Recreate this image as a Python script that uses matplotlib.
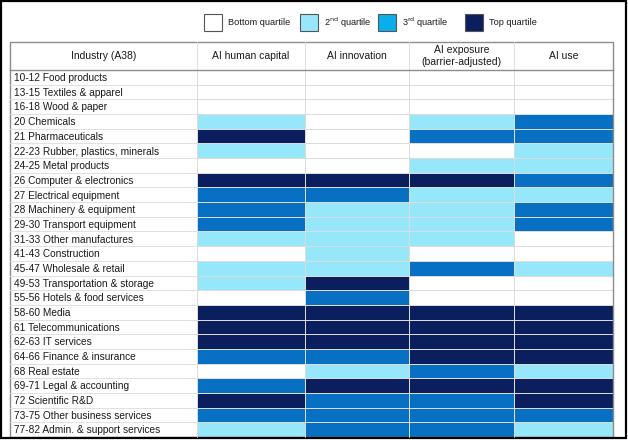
import numpy as np
import matplotlib.pyplot as plt
from matplotlib.colors import ListedColormap
from matplotlib.patches import Rectangle

# Industries (rows) and indicators (columns)
industries = [
    '10-12 Food products', '13-15 Textiles & apparel', '16-18 Wood & paper',
    '20 Chemicals', '21 Pharmaceuticals', '22-23 Rubber, plastics, minerals',
    '24-25 Metal products', '26 Computer & electronics', '27 Electrical equipment',
    '28 Machinery & equipment', '29-30 Transport equipment', '31-33 Other manufactures',
    '41-43 Construction', '45-47 Wholesale & retail', '49-53 Transportation & storage',
    '55-56 Hotels & food services', '58-60 Media', '61 Telecommunications',
    '62-63 IT services', '64-66 Finance & insurance', '68 Real estate',
    '69-71 Legal & accounting', '72 Scientific R&D', '73-75 Other business services',
    '77-82 Admin. & support services',
]
indicators = ['AI human capital', 'AI innovation', 'AI exposure\n(barrier-adjusted)', 'AI use']

# quartile per cell: 0 = bottom, 1 = 2nd, 2 = 3rd, 3 = top
human_capital = [0, 0, 0, 1, 3, 1, 0, 3, 2, 2, 2, 1, 0, 1, 1, 0, 3, 3, 3, 2, 0, 2, 3, 2, 1]
innovation    = [0, 0, 0, 0, 0, 0, 0, 3, 2, 1, 1, 1, 1, 1, 3, 2, 3, 3, 3, 2, 1, 3, 2, 2, 2]
exposure      = [0, 0, 0, 1, 2, 0, 1, 3, 1, 1, 1, 1, 0, 2, 0, 0, 3, 3, 3, 3, 2, 3, 2, 2, 2]
ai_use        = [0, 0, 0, 2, 2, 1, 1, 2, 1, 2, 2, 0, 0, 1, 0, 0, 3, 3, 3, 3, 1, 3, 3, 2, 1]

legend_labels = ['Bottom quartile', '2$^{\\rm nd}$ quartile', '3$^{\\rm rd}$ quartile', 'Top quartile']
cell_colors = ['#ffffff', '#97e7fb', '#0870c2', '#0b1f5e']
legend_colors = ['#ffffff', '#97e7fb', '#0aaeea', '#0b1f5e']

plt.rcParams['font.family'] = ['Liberation Sans', 'DejaVu Sans']

W, H = 628, 440
fig = plt.figure(figsize=(W / 100, H / 100), dpi=100)

# table geometry in pixels
left, right, top, head_bot, bottom = 10, 613, 42, 70, 437
col_x = [197, 305, 409, 514, 613]
n = len(industries)
row_h = (bottom - head_bot) / n

# cells
ax = fig.add_axes([col_x[0] / W, 1 - bottom / H, (right - col_x[0]) / W, (bottom - head_bot) / H])
grid = np.array([human_capital, innovation, exposure, ai_use]).T
ax.pcolormesh(np.array(col_x) - col_x[0], np.arange(n + 1), grid,
              cmap=ListedColormap(cell_colors), vmin=-0.5, vmax=3.5,
              edgecolor='#dcdcdc', linewidth=0.6)
ax.set_xlim(0, right - col_x[0])
ax.set_ylim(n, 0)
ax.axis('off')

# overlay in pixel coordinates for frame, labels, legend
ov = fig.add_axes([0, 0, 1, 1], facecolor='none')
ov.set_xlim(0, W)
ov.set_ylim(H, 0)
ov.axis('off')

for i, name in enumerate(industries):
    y = head_bot + (i + 0.5) * row_h
    ov.text(14, y + 0.8, name, fontsize=7.3, va='center', ha='left', color='#1a1a1a')
    if i > 0:
        ov.plot([left, col_x[0]], [head_bot + i * row_h] * 2, color='#dcdcdc', lw=0.6)

ov.text((left + col_x[0]) / 2, (top + head_bot) / 2, 'Industry (A38)',
        fontsize=7.5, ha='center', va='center', color='#1a1a1a')
for j, lab in enumerate(indicators):
    ov.text((col_x[j] + col_x[j + 1]) / 2, (top + head_bot) / 2, lab, fontsize=7.5,
            ha='center', va='center', color='#1a1a1a', linespacing=1.35)
for x in col_x[:-1]:
    ov.plot([x, x], [top, bottom], color='#dcdcdc', lw=0.6)

ov.add_patch(Rectangle((left, top), right - left, bottom - top, fill=False, ec='#8c8c8c', lw=1.0))
ov.plot([left, right], [head_bot, head_bot], color='#8c8c8c', lw=1.0)

# legend
leg_x = [204, 300, 378, 465]
for x, c, lab in zip(leg_x, legend_colors, legend_labels):
    ov.add_patch(Rectangle((x, 14), 18, 17, fc=c, ec='#555555', lw=0.8))
    ov.text(x + 24, 22.5, lab, fontsize=6.6, va='center', ha='left', color='#1a1a1a')

# outer frame
ov.add_patch(Rectangle((1, 1), W - 3, H - 3, fill=False, ec='black', lw=1.6))

fig.savefig('out.png', dpi=100)
